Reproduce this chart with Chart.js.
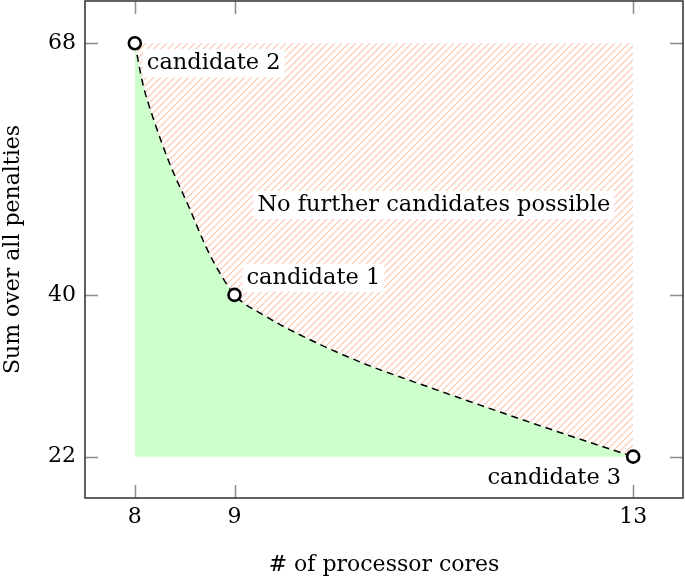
<!DOCTYPE html>
<html>
<head>
<meta charset="utf-8">
<script src="https://cdn.jsdelivr.net/npm/chart.js@4.4.0/dist/chart.umd.min.js"></script>
<style>
  html, body { margin: 0; padding: 0; background: #fff; }
  #wrap { width: 685px; height: 578px; }
</style>
</head>
<body>
<div id="wrap"><canvas id="chart" width="685" height="578"></canvas></div>
<script>
// data
const cores = [8, 9, 13];
const penalties = [68, 40, 22];
const candidateNames = ["candidate 2", "candidate 1", "candidate 3"];
// dashed boundary
const frontierX = [8, 8.08, 8.18, 8.35, 8.55, 8.72, 8.86, 9, 9.3, 9.63, 10.29, 10.96, 11.63, 12.29, 13];
const frontierY = [68, 63.5, 59.8, 54.6, 49.6, 45.2, 42.3, 40, 37.7, 35.7, 32.4, 29.7, 27.1, 24.6, 22];
const xTicks = [8, 9, 13];
const yTicks = [22, 40, 68];
const ceiling = 68;
const floor = 22;

const serif = "'DejaVu Serif', 'Liberation Serif', serif";

function hatchPattern() {
    const s = 7;
    const c = document.createElement("canvas");
    c.width = s; c.height = s;
    const g = c.getContext("2d");
    g.strokeStyle = "rgb(251,198,178)";
    g.lineWidth = 1.2;
    g.beginPath();
    g.moveTo(-1, s + 1); g.lineTo(s + 1, -1);
    g.moveTo(-1, 1); g.lineTo(1, -1);
    g.moveTo(s - 1, s + 1); g.lineTo(s + 1, s - 1);
    g.stroke();
    return document.getElementById("chart").getContext("2d").createPattern(c, "repeat");
}

const points = cores.map((x, i) => ({ x, y: penalties[i] }));
const frontier = frontierX.map((x, i) => ({ x, y: frontierY[i] }));
const ceilingLine = [{ x: cores[0], y: ceiling }, { x: cores[cores.length - 1], y: ceiling }];

// label anchors: point index, pixel offset, alignment
const labels = [
    { i: 0, dx: 12, dy: 20, align: "left" },
    { i: 1, dx: 12, dy: -17, align: "left" },
    { i: 2, dx: -12, dy: 21, align: "right" },
];
const note = { text: "No further candidates possible", x: 11, y: 50 };

const decor = {
    id: "decor",
    beforeDatasetsDraw(chart) {
        const ctx = chart.ctx;
        const xs = chart.scales.x, ys = chart.scales.y;
        ctx.save();
        ctx.font = "22.5px " + serif;
        ctx.textBaseline = "middle";
        const box = (text, x, y, align) => {
            const w = ctx.measureText(text).width;
            const left = align === "left" ? x : align === "right" ? x - w : x - w / 2;
            ctx.fillStyle = "#fff";
            ctx.fillRect(left - 4, y - 14, w + 8, 28);
            ctx.fillStyle = "#000";
            ctx.textAlign = align;
            ctx.fillText(text, x, y);
        };
        labels.forEach(l => {
            const px = xs.getPixelForValue(cores[l.i]);
            const py = ys.getPixelForValue(penalties[l.i]);
            box(candidateNames[l.i], px + l.dx, py + l.dy, l.align);
        });
        box(note.text, xs.getPixelForValue(note.x), ys.getPixelForValue(note.y), "center");
        ctx.restore();
    },
    afterDatasetsDraw(chart) {
        const ctx = chart.ctx;
        const a = chart.chartArea;
        const xs = chart.scales.x, ys = chart.scales.y;
        const len = 13;
        ctx.save();
        ctx.strokeStyle = "#8c8c8c";
        ctx.lineWidth = 1.5;
        ctx.beginPath();
        xTicks.forEach(v => {
            const px = Math.round(xs.getPixelForValue(v)) + 0.5;
            ctx.moveTo(px, a.bottom); ctx.lineTo(px, a.bottom - len);
            ctx.moveTo(px, a.top); ctx.lineTo(px, a.top + len);
        });
        yTicks.forEach(v => {
            const py = Math.round(ys.getPixelForValue(v)) + 0.5;
            ctx.moveTo(a.left, py); ctx.lineTo(a.left + len, py);
            ctx.moveTo(a.right, py); ctx.lineTo(a.right - len, py);
        });
        ctx.stroke();
        ctx.strokeStyle = "#3a3a3a";
        ctx.lineWidth = 1.6;
        ctx.strokeRect(a.left, a.top, a.right - a.left, a.bottom - a.top);
        ctx.restore();
    }
};

const noPad = s => { s.paddingTop = 0; s.paddingBottom = 0; s.paddingLeft = 0; s.paddingRight = 0; };

new Chart(document.getElementById("chart"), {
    type: "line",
    data: {
        datasets: [
            {
                label: "candidates",
                data: points,
                showLine: false,
                pointRadius: 6,
                pointBorderWidth: 2.6,
                pointBackgroundColor: "#fff",
                pointBorderColor: "#000",
                clip: false,
                order: 0,
            },
            {
                label: "frontier",
                data: frontier,
                borderColor: "#000",
                borderWidth: 1.5,
                borderDash: [7, 5],
                cubicInterpolationMode: "monotone",
                pointRadius: 0,
                fill: { value: floor },
                backgroundColor: "#ccffcc",
                order: 1,
            },
            {
                label: "impossible",
                data: ceilingLine,
                borderWidth: 0,
                pointRadius: 0,
                fill: 1,
                backgroundColor: hatchPattern(),
                order: 2,
            },
        ],
    },
    options: {
        responsive: false,
        animation: false,
        layout: { autoPadding: false, padding: { top: 1, right: 2, left: 0, bottom: 0 } },
        plugins: {
            legend: { display: false },
            tooltip: { enabled: false },
            filler: { drawTime: "beforeDatasetsDraw" },
        },
        scales: {
            x: {
                type: "linear",
                min: 7.5,
                max: 13.5,
                afterBuildTicks: s => { s.ticks = xTicks.map(v => ({ value: v })); },
                afterFit: s => { s.height = 80; noPad(s); },
                grid: { display: false, drawTicks: false },
                border: { display: false },
                ticks: { color: "#000", padding: 6, font: { family: serif, size: 22 } },
                title: {
                    display: true,
                    text: "# of processor cores",
                    color: "#000",
                    padding: 0,
                    font: { family: serif, size: 22 },
                },
            },
            y: {
                min: 17.4,
                max: 72.7,
                afterBuildTicks: s => { s.ticks = yTicks.map(v => ({ value: v })); },
                afterFit: s => { s.width = 85; noPad(s); },
                grid: { display: false, drawTicks: false },
                border: { display: false },
                ticks: { color: "#000", padding: 9, font: { family: serif, size: 22 } },
                title: {
                    display: true,
                    text: "Sum over all penalties",
                    color: "#000",
                    padding: 0,
                    font: { family: serif, size: 22 },
                },
            },
        },
    },
    plugins: [decor],
});
</script>
</body>
</html>
